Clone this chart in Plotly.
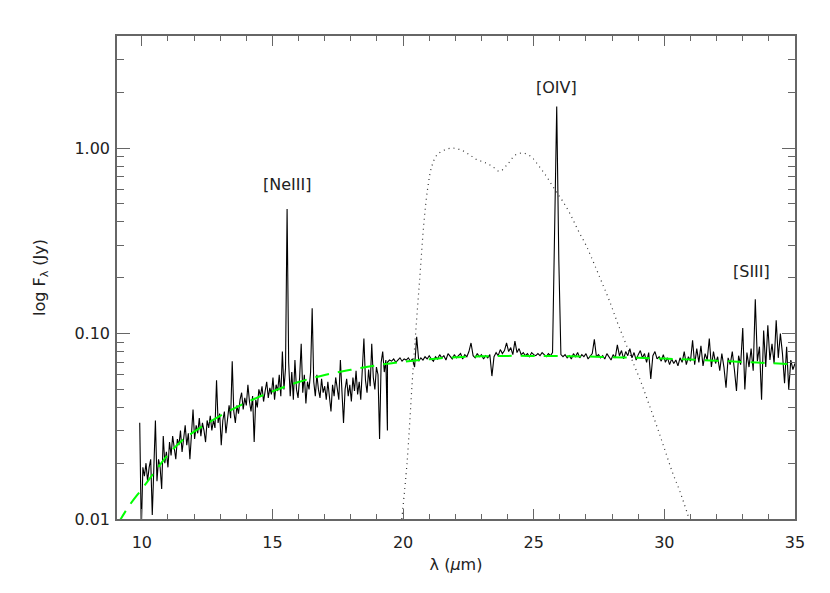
import numpy as np
import plotly.graph_objects as go

# ---- spectrum, short-wavelength module (9.92-19.40 um, 0.06 um sampling) ----
SL_START, SL_STOP = 9.92, 19.40
SL_FLUX = [
    0.033, 0.0085, 0.019, 0.017, 0.020, 0.016, 0.019, 0.021, 0.0105, 0.018,
    0.034, 0.016, 0.021, 0.019, 0.0145, 0.028, 0.020, 0.023, 0.019, 0.026,
    0.022, 0.028, 0.024, 0.021, 0.027, 0.025, 0.030, 0.023, 0.027, 0.032,
    0.025, 0.029, 0.021, 0.030, 0.039, 0.027, 0.032, 0.029, 0.035, 0.028,
    0.033, 0.030, 0.026, 0.034, 0.031, 0.036, 0.030, 0.034, 0.031, 0.056,
    0.033, 0.037, 0.025, 0.034, 0.038, 0.029, 0.036, 0.041, 0.035, 0.071,
    0.038, 0.033, 0.041, 0.037, 0.044, 0.048, 0.039, 0.045, 0.041, 0.053,
    0.043, 0.038, 0.046, 0.026, 0.044, 0.040, 0.050, 0.046, 0.052, 0.043,
    0.049, 0.055, 0.045, 0.051, 0.047, 0.058, 0.044, 0.053, 0.049, 0.060,
    0.046, 0.080, 0.050, 0.065, 0.47, 0.070, 0.046, 0.062, 0.044, 0.072,
    0.050, 0.045, 0.058, 0.088, 0.048, 0.060, 0.042, 0.055, 0.050, 0.062,
    0.137, 0.055, 0.046, 0.060, 0.050, 0.045, 0.057, 0.048, 0.052, 0.044,
    0.055, 0.047, 0.038, 0.053, 0.046, 0.058, 0.050, 0.044, 0.072, 0.051,
    0.033, 0.050, 0.057, 0.046, 0.053, 0.043, 0.058, 0.049, 0.063, 0.047,
    0.055, 0.044, 0.060, 0.094, 0.056, 0.048, 0.064, 0.052, 0.088, 0.058,
    0.050, 0.066, 0.060, 0.027, 0.070, 0.080, 0.062, 0.072, 0.030,
]

# ---- spectrum, long-wavelength module (19.40-35.00 um, 0.08 um sampling) ----
LL_START, LL_STOP = 19.40, 35.00
LL_FLUX = [
    0.070, 0.072, 0.071, 0.073, 0.070, 0.072, 0.074, 0.071, 0.073, 0.072,
    0.074, 0.071, 0.073, 0.066, 0.096, 0.071, 0.074, 0.072, 0.075, 0.073,
    0.076, 0.073, 0.071, 0.075, 0.073, 0.077, 0.074, 0.076, 0.072, 0.078,
    0.075, 0.073, 0.077, 0.074, 0.076, 0.078, 0.073, 0.077, 0.075, 0.080,
    0.089, 0.076, 0.074, 0.078, 0.075, 0.077, 0.073, 0.076, 0.074, 0.077,
    0.059, 0.075, 0.079, 0.076, 0.082, 0.078, 0.081, 0.089, 0.080, 0.084,
    0.077, 0.091, 0.079, 0.083, 0.077, 0.079, 0.076, 0.078, 0.075, 0.079,
    0.077, 0.076, 0.078, 0.076, 0.079, 0.077, 0.075, 0.078, 0.076, 0.079,
    0.30, 1.68, 0.25, 0.077, 0.075, 0.077, 0.074, 0.076, 0.073, 0.078,
    0.075, 0.079, 0.074, 0.077, 0.075, 0.078, 0.073, 0.076, 0.078, 0.093,
    0.075, 0.077, 0.074, 0.076, 0.073, 0.078, 0.075, 0.072, 0.077, 0.074,
    0.087, 0.076, 0.081, 0.073, 0.080, 0.076, 0.083, 0.074, 0.079, 0.072,
    0.077, 0.081, 0.074, 0.078, 0.070, 0.079, 0.057, 0.076, 0.080, 0.073,
    0.075, 0.071, 0.077, 0.070, 0.074, 0.068, 0.073, 0.069, 0.072, 0.067,
    0.074, 0.070, 0.080, 0.068, 0.075, 0.071, 0.092, 0.068, 0.083, 0.070,
    0.086, 0.067, 0.078, 0.072, 0.094, 0.066, 0.080, 0.069, 0.075, 0.063,
    0.078, 0.066, 0.051, 0.074, 0.068, 0.080, 0.064, 0.049, 0.076, 0.068,
    0.107, 0.050, 0.079, 0.066, 0.083, 0.063, 0.153, 0.071, 0.085, 0.044,
    0.104, 0.066, 0.111, 0.072, 0.088, 0.069, 0.118, 0.074, 0.100, 0.078,
    0.054, 0.085, 0.050, 0.072, 0.064, 0.069,
]

# ---- continuum fit (green dashed) ----
CONT_WAVE = [9.1, 9.5, 10, 10.5, 11, 11.5, 12, 13, 14, 15, 16, 17, 18, 19, 20,
             21, 22, 23, 24, 25, 26, 27, 28, 29, 30, 31, 32, 33, 34, 35]
CONT_FLUX = [0.0095, 0.0117, 0.0145, 0.018, 0.0222, 0.0262, 0.0296, 0.0360,
             0.0425, 0.0488, 0.0548, 0.0598, 0.0638, 0.0675, 0.0705, 0.0728,
             0.0745, 0.0754, 0.0758, 0.0758, 0.0756, 0.0752, 0.0746, 0.0740,
             0.0733, 0.0724, 0.0714, 0.0703, 0.0693, 0.0684]

# ---- filter transmission (dotted) ----
FILT_WAVE = [19.95, 20.15, 20.35, 20.5, 20.65, 20.8, 20.95, 21.1, 21.3, 21.6,
             21.9, 22.2, 22.5, 22.8, 23.1, 23.4, 23.7, 24.0, 24.3, 24.6, 24.9,
             25.2, 25.5, 25.8, 26.1, 26.4, 26.7, 27.0, 27.3, 27.6, 27.9, 28.2,
             28.5, 28.8, 29.1, 29.4, 29.7, 30.0, 30.3, 30.6, 30.95]
FILT_FLUX = [0.0100, 0.020, 0.055, 0.11, 0.21, 0.40, 0.62, 0.80, 0.92, 0.98,
             1.00, 0.98, 0.93, 0.87, 0.84, 0.80, 0.75, 0.82, 0.92, 0.94, 0.90,
             0.80, 0.70, 0.60, 0.52, 0.44, 0.36, 0.30, 0.24, 0.19, 0.15, 0.115,
             0.09, 0.07, 0.055, 0.042, 0.032, 0.024, 0.018, 0.014, 0.0100]

# ---- line labels ----
LINE_NAMES = ["[NeIII]", "[OIV]", "[SIII]"]
LINE_WAVE = [15.57, 25.89, 33.35]
LINE_LABEL_FLUX = [0.634, 2.115, 0.215]

Y_TICKS = [0.01, 0.1, 1.0]
Y_TICK_TEXT = ["0.01", "0.10", "1.00"]
Y_MINOR = [0.02, 0.03, 0.04, 0.05, 0.06, 0.07, 0.08, 0.09,
           0.2, 0.3, 0.4, 0.5, 0.6, 0.7, 0.8, 0.9, 2, 3, 4]
X_TICKS = [10, 15, 20, 25, 30, 35]

sl_wave = np.linspace(SL_START, SL_STOP, len(SL_FLUX))
ll_wave = np.linspace(LL_START, LL_STOP, len(LL_FLUX))

FONT = "DejaVu Sans"
AX_COL = "#666666"
TXT_COL = "#222222"

fig = go.Figure()

# filter curve
fig.add_trace(go.Scatter(x=FILT_WAVE, y=FILT_FLUX, mode="lines",
                         line=dict(color="#333333", width=1.2, dash="1px,4px", shape="spline"),
                         showlegend=False))
# spectrum
fig.add_trace(go.Scatter(x=list(sl_wave) + list(ll_wave), y=SL_FLUX + LL_FLUX, mode="lines",
                         line=dict(color="black", width=1.1), showlegend=False))
# continuum
fig.add_trace(go.Scatter(x=CONT_WAVE, y=CONT_FLUX, mode="lines",
                         line=dict(color="#00ff00", width=2, dash="14px,9px", shape="spline"),
                         showlegend=False))

# log axis -> annotation y given in log10 units
for name, w, f in zip(LINE_NAMES, LINE_WAVE, LINE_LABEL_FLUX):
    fig.add_annotation(x=w, y=np.log10(f), text=name, showarrow=False,
                       font=dict(family=FONT, size=16, color=TXT_COL))

fig.update_xaxes(
    range=[9.05, 35], tickvals=X_TICKS, ticks="inside", ticklen=10, tickwidth=1,
    tickcolor=AX_COL, showline=True, linecolor=AX_COL, linewidth=1.5, mirror="ticks",
    showgrid=False, zeroline=False, ticklabelstandoff=8, automargin=False,
    minor=dict(dtick=1, tick0=0, ticks="inside", ticklen=5, tickcolor=AX_COL, showgrid=False),
    tickfont=dict(family=FONT, size=16, color=TXT_COL),
    title=dict(text="λ (<i>μ</i>m)", font=dict(family=FONT, size=16, color=TXT_COL), standoff=8),
)
fig.update_yaxes(
    type="log", range=[-2, 0.605], tickvals=Y_TICKS, ticktext=Y_TICK_TEXT,
    ticks="inside", ticklen=13, tickwidth=1, tickcolor=AX_COL, showline=True,
    linecolor=AX_COL, linewidth=1.5, mirror="ticks", showgrid=False, zeroline=False,
    ticklabelstandoff=2, automargin=False,
    minor=dict(tickvals=Y_MINOR, ticks="inside", ticklen=7, tickcolor=AX_COL, showgrid=False),
    tickfont=dict(family=FONT, size=16, color=TXT_COL),
    title=dict(text="log F<sub>λ</sub> (Jy)", font=dict(family=FONT, size=16, color=TXT_COL),
               standoff=25),
)

# page body adds ~8px offset, so margins are shifted to land the frame at 117..795 / 36..519
fig.update_layout(
    width=830, height=593,
    margin=dict(l=109, r=43, t=28, b=82),
    paper_bgcolor="white", plot_bgcolor="white",
    showlegend=False,
)

fig.write_html("out.html")
